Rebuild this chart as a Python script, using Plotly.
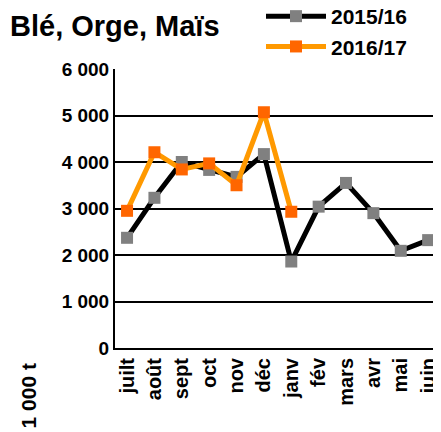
import plotly.graph_objects as go

mois = ['juilt', 'août', 'sept', 'oct', 'nov', 'déc', 'janv', 'fév', 'mars', 'avr', 'mai', 'juin']
v_2015_16 = [2370, 3230, 4000, 3830, 3680, 4170, 1860, 3040, 3550, 2900, 2090, 2320]
v_2016_17 = [2950, 4210, 3840, 3970, 3500, 5070, 2930]

police = dict(family='Liberation Sans, Arial', color='black', weight='bold')

# la page garde une marge de 8 px autour du graphique : on la compense
W, H = 433, 424

fig = go.Figure()
fig.add_trace(go.Scatter(x=mois, y=v_2015_16, name='2015/16', mode='lines+markers',
                         line=dict(color='black', width=5),
                         marker=dict(symbol='square', size=12, color='#808080')))
fig.add_trace(go.Scatter(x=mois[:len(v_2016_17)], y=v_2016_17, name='2016/17', mode='lines+markers',
                         line=dict(color='#FF9900', width=5),
                         marker=dict(symbol='square', size=12, color='#FF6600')))

fig.update_layout(
    width=W, height=H,
    margin=dict(l=107, r=0, t=61, b=84, autoexpand=False),
    plot_bgcolor='white', paper_bgcolor='white',
    font=police,
    showlegend=True,
    legend=dict(x=(253 - 107) / 326, y=(340 + 12) / 279,
                xanchor='left', yanchor='top', font=dict(size=21, **police),
                itemwidth=60, tracegroupgap=0, bgcolor='rgba(0,0,0,0)'),
    annotations=[
        dict(text='Blé, Orge, Maïs', xref='paper', yref='paper', x=-107 / 326, y=(340 - 18) / 279,
             xanchor='left', yanchor='middle', showarrow=False, font=dict(size=29, **police)),
        dict(text='1 000 t', xref='paper', yref='paper', x=(20 - 107) / 326, y=-0.05,
             xanchor='center', yanchor='top', textangle=-90, showarrow=False,
             font=dict(size=21, **police)),
    ],
)
fig.update_xaxes(type='category', range=[-0.44, 11.47], tickangle=-90, showgrid=False,
                 showline=True, linecolor='black', linewidth=2, ticks='',
                 tickfont=dict(size=20, **police))
fig.update_yaxes(range=[0, 6000], dtick=1000, tickformat=',d', showgrid=True,
                 gridcolor='black', gridwidth=1.5, showline=True, linecolor='black', linewidth=2,
                 zeroline=False, ticks='', tickfont=dict(size=19, **police))
fig.update_layout(separators=', ')

fig.write_html("out.html")
